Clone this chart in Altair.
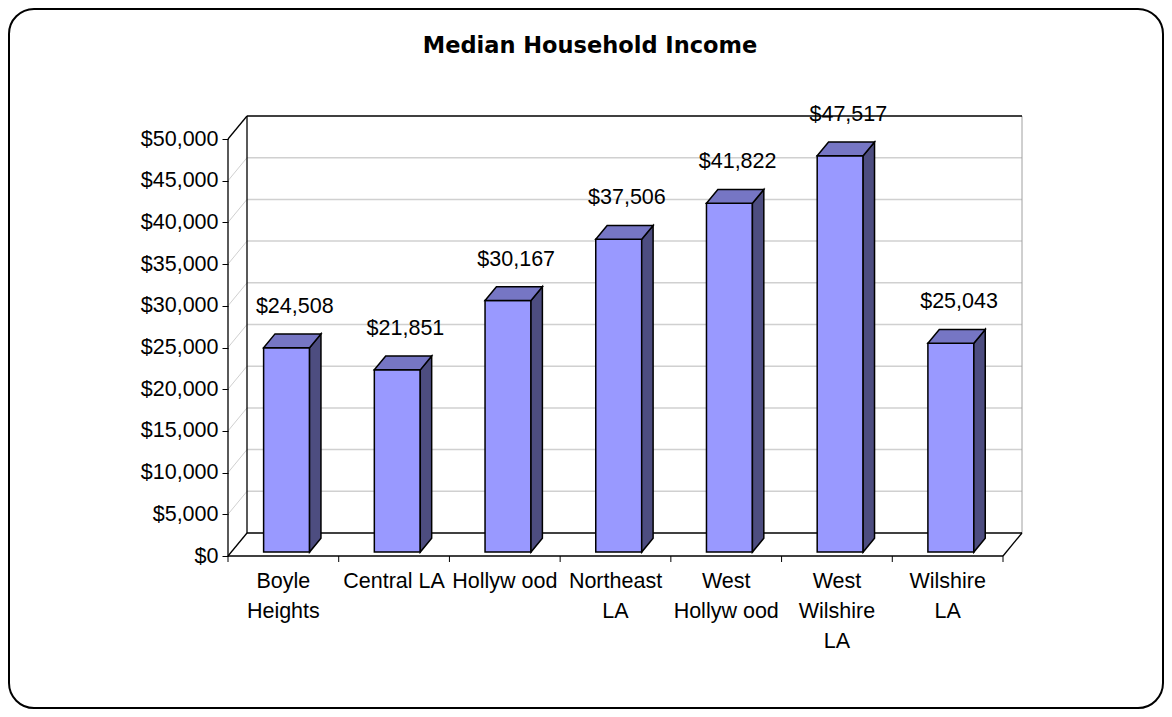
import altair as alt
import pandas as pd

# ---------------- data ----------------
categories = ["Boyle Heights", "Central LA", "Hollywood", "Northeast LA",
              "West Hollywood", "West Wilshire LA", "Wilshire LA"]
axis_labels = ["Boyle\nHeights", "Central LA", "Hollyw ood", "Northeast\nLA",
               "West\nHollyw ood", "West\nWilshire\nLA", "Wilshire\nLA"]
income = [24508, 21851, 30167, 37506, 41822, 47517, 25043]
y_ticks = [0, 5000, 10000, 15000, 20000, 25000, 30000, 35000, 40000, 45000, 50000]
title_text = ["Median Household Income"]

# ---------------- layout / style constants ----------------
W, H = 794, 440                 # plot area (front plane + depth)
DEPTH_PX_X, DEPTH_PX_Y = 19, 23  # 3-D depth of the walls, pixels
FONT = "Liberation Sans"
TITLE_FONT = "DejaVu Sans"
FS = 21.5
n = len(categories)
YMAX = y_ticks[-1]
unit_px = (W - DEPTH_PX_X) / n
DX = DEPTH_PX_X / unit_px
ypx = (H - DEPTH_PX_Y) / YMAX
DY = DEPTH_PX_Y / ypx
F1, F2 = 0.17, 0.77   # bar front/back position within the depth
BW = 0.415            # bar width in category units

FRONT = "#9999FF"
TOP = "#7676C4"
SIDE = "#4D4D80"

xscale = alt.Scale(domain=[0, n + DX], nice=False, zero=False)
yscale = alt.Scale(domain=[0, YMAX + DY], nice=False, zero=False)
yaxis = alt.Axis(values=y_ticks, format="$,d", labelFont=FONT, labelFontSize=FS,
                 labelColor="black", tickColor="black", tickSize=6, tickWidth=1,
                 domain=False, grid=False, title=None, labelPadding=4)


def X(f):
    return alt.X(f, type="quantitative", scale=xscale, axis=None)


def Y(f):
    return alt.Y(f, type="quantitative", scale=yscale, axis=yaxis)


# ---------------- derived tables ----------------
front_rows, side_rows, top_rows, lab_rows, cat_rows = [], [], [], [], []
shift = (F2 - F1) * DX
for i, (c, v, lab) in enumerate(zip(categories, income, axis_labels)):
    x0 = i + 0.5 - BW / 2 + F1 * DX
    x1 = x0 + BW
    front_rows.append(dict(cat=c, x0=x0, x1=x1, b=F1 * DY, t=v + F1 * DY))
    side_rows += [dict(cat=c, x=x1, t=v + F1 * DY, b=F1 * DY),
                  dict(cat=c, x=x1 + shift, t=v + F2 * DY, b=F2 * DY)]
    top_rows += [dict(cat=c, y=v + F1 * DY, xa=x0, xb=x1),
                 dict(cat=c, y=v + F2 * DY, xa=x0 + shift, xb=x1 + shift)]
    lab_rows.append(dict(cat=c, x=i + 0.5 + 0.6 * DX, y=v + F2 * DY, v=v))
    cat_rows.append(dict(x=i + 0.5, label=lab))

front_df = pd.DataFrame(front_rows)
side_df = pd.DataFrame(side_rows)
top_df = pd.DataFrame(top_rows)
lab_df = pd.DataFrame(lab_rows)
cat_df = pd.DataFrame(cat_rows)

grid_back = pd.DataFrame([dict(x=DX, x2=n + DX, y=t + DY, y2=t + DY) for t in y_ticks[1:-1]])
grid_left = pd.DataFrame([dict(x=0, x2=DX, y=t, y2=t + DY) for t in y_ticks[1:-1]])
edges = pd.DataFrame([
    dict(x=0, x2=0, y=0, y2=YMAX),
    dict(x=0, x2=DX, y=YMAX, y2=YMAX + DY),
    dict(x=DX, x2=DX, y=DY, y2=YMAX + DY),
    dict(x=0, x2=DX, y=0, y2=DY),
    dict(x=DX, x2=n + DX, y=YMAX + DY, y2=YMAX + DY),
    dict(x=DX, x2=n + DX, y=DY, y2=DY),
    dict(x=0, x2=n, y=0, y2=0),
    dict(x=n, x2=n + DX, y=0, y2=DY),
])
edge_right = pd.DataFrame([dict(x=n + DX, x2=n + DX, y=DY, y2=YMAX + DY)])
ticks = pd.DataFrame([dict(x=i, y=0) for i in range(n + 1)])
one = pd.DataFrame({"title": title_text})

# ---------------- layers ----------------
border = alt.Chart(one).mark_rect(fillOpacity=0, stroke="black", strokeWidth=2,
                                  cornerRadius=25).encode(
    x=alt.value(-219), x2=alt.value(935), y=alt.value(-107), y2=alt.value(592))

gl = alt.Chart(grid_left).mark_rule(color="#d0d0d0", strokeWidth=1).encode(
    x=X("x"), x2="x2", y=Y("y"), y2="y2")
gb = alt.Chart(grid_back).mark_rule(color="#d0d0d0", strokeWidth=1.5).encode(
    x=X("x"), x2="x2", y=Y("y"), y2="y2")
er = alt.Chart(edge_right).mark_rule(color="#a0a0a0", strokeWidth=1).encode(
    x=X("x"), x2="x2", y=Y("y"), y2="y2")
ed = alt.Chart(edges).mark_rule(color="black", strokeWidth=1.3).encode(
    x=X("x"), x2="x2", y=Y("y"), y2="y2")
tk = alt.Chart(ticks).mark_rule(color="black", strokeWidth=1).encode(
    x=X("x"), y=Y("y"), y2=alt.value(H + 6))

fr = alt.Chart(front_df).mark_rect(fill=FRONT, stroke="black", strokeWidth=1.5).encode(
    x=X("x0"), x2="x1", y=Y("b"), y2="t")
sd = alt.Chart(side_df).mark_area(fill=SIDE, stroke="black", strokeWidth=1.5,
                                  orient="vertical").encode(
    x=X("x"), y=Y("t"), y2="b", detail="cat:N")
tp = alt.Chart(top_df).mark_area(fill=TOP, stroke="black", strokeWidth=1.5,
                                 orient="horizontal").encode(
    y=Y("y"), x=X("xa"), x2="xb", detail="cat:N")

vl = alt.Chart(lab_df).mark_text(font=FONT, fontSize=FS, color="black", align="center",
                                 baseline="alphabetic", dy=-21).encode(
    x=X("x"), y=Y("y"), text=alt.Text("v:Q", format="$,d"))
cl = alt.Chart(cat_df).mark_text(font=FONT, fontSize=FS, color="black", align="center",
                                 baseline="alphabetic", lineBreak="\n",
                                 lineHeight=30).encode(
    x=X("x"), y=alt.value(472), text="label:N")
tt = alt.Chart(one).mark_text(font=TITLE_FONT, fontSize=22.5, fontWeight="bold",
                              color="black", align="center",
                              baseline="alphabetic").encode(
    x=alt.value(362), y=alt.value(-63), text="title:N")

chart = alt.layer(border, gl, gb, er, ed, tk, fr, sd, tp, vl, cl, tt).properties(
    width=W, height=H,
    autosize=alt.AutoSizeParams(type="none"),
    padding={"left": 220, "top": 108, "right": 142, "bottom": 153},
    background="white",
).configure_view(stroke=None)

chart.save("out.html", embed_options={"renderer": "svg", "actions": False})
